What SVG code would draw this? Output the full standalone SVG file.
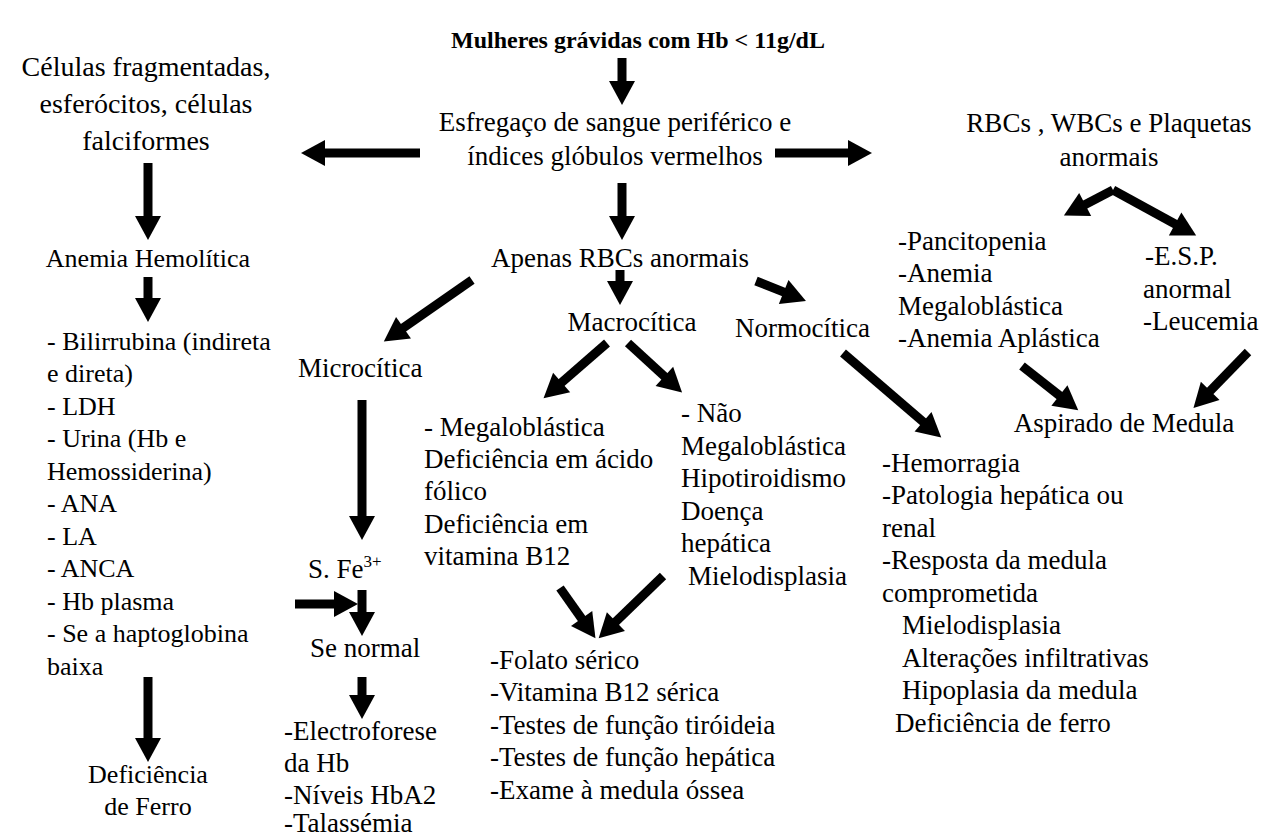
<svg xmlns="http://www.w3.org/2000/svg" width="1280" height="837" viewBox="0 0 1280 837">
<defs>
<style>
text{font-family:'Liberation Serif',serif;font-size:27px;fill:#000}
.b{font-weight:bold;font-size:24px}
.big{font-size:28px}
.l{font-size:26px}
.m{text-anchor:middle}
.c line{stroke:#000;stroke-width:9;stroke-linecap:butt;marker-end:url(#ah)}
</style>
<marker id="ah" markerUnits="userSpaceOnUse" markerWidth="24" markerHeight="26" viewBox="0 0 24 26" refX="1" refY="13" orient="auto" overflow="visible">
<path d="M0,0 L24,13 L0,26 z" fill="#000"/>
</marker>
</defs>
<rect width="1280" height="837" fill="#fff"/>
<g font-family="Liberation Serif, serif">
<g id="n-title"><text class="b m" x="638" y="48">Mulheres grávidas com Hb &lt; 11g/dL</text></g>
<g id="n-esfregaco"><text class="m" x="615" y="131">Esfregaço de sangue periférico e</text><text class="m" x="615" y="165">índices glóbulos vermelhos</text></g>
<g id="n-celulas"><text class="big m" x="146" y="76">Células fragmentadas,</text><text class="big m" x="146" y="113">esferócitos, células</text><text class="big m" x="146" y="150">falciformes</text></g>
<g id="n-rbcwbc"><text class="m" x="1109" y="132">RBCs , WBCs e Plaquetas</text><text class="m" x="1109" y="166">anormais</text></g>
<g id="n-hemolitica"><text class="l m" x="148" y="267">Anemia Hemolítica</text></g>
<g id="n-hemolist">
<text class="l" x="47" y="350">- Bilirrubina (indireta</text>
<text class="l" x="47" y="382">e direta)</text>
<text class="l" x="47" y="415">- LDH</text>
<text class="l" x="47" y="447">- Urina (Hb e</text>
<text class="l" x="47" y="480">Hemossiderina)</text>
<text class="l" x="47" y="512">- ANA</text>
<text class="l" x="47" y="545">- LA</text>
<text class="l" x="47" y="577">- ANCA</text>
<text class="l" x="47" y="610">- Hb plasma</text>
<text class="l" x="47" y="642">- Se a haptoglobina</text>
<text class="l" x="47" y="675">baixa</text>
</g>
<g id="n-deffe"><text class="l m" x="148" y="783">Deficiência</text><text class="l m" x="148" y="815">de Ferro</text></g>
<g id="n-apenas"><text class="m" x="620" y="267">Apenas RBCs anormais</text></g>
<g id="n-macro"><text class="m" x="632" y="331">Macrocítica</text></g>
<g id="n-normo"><text x="735" y="337">Normocítica</text></g>
<g id="n-micro"><text x="298" y="377">Microcítica</text></g>
<g id="n-sfe"><text x="308" y="578">S. Fe<tspan font-size="17" dy="-11">3+</tspan></text></g>
<g id="n-senormal"><text x="310" y="657">Se normal</text></g>
<g id="n-electro">
<text x="284" y="740">-Electroforese</text>
<text x="284" y="772">da Hb</text>
<text x="284" y="804">-Níveis HbA2</text>
<text x="284" y="832">-Talassémia</text>
</g>
<g id="n-megalo">
<text x="424" y="436">- Megaloblástica</text>
<text x="424" y="468">Deficiência em ácido</text>
<text x="424" y="500">fólico</text>
<text x="424" y="533">Deficiência em</text>
<text x="424" y="565">vitamina B12</text>
</g>
<g id="n-naomegalo">
<text x="681" y="422">- Não</text>
<text x="681" y="455">Megaloblástica</text>
<text x="681" y="487">Hipotiroidismo</text>
<text x="681" y="520">Doença</text>
<text x="681" y="552">hepática</text>
<text x="688" y="585">Mielodisplasia</text>
</g>
<g id="n-folato">
<text x="490" y="669">-Folato sérico</text>
<text x="490" y="701">-Vitamina B12 sérica</text>
<text x="490" y="734">-Testes de função tiróideia</text>
<text x="490" y="766">-Testes de função hepática</text>
<text x="490" y="799">-Exame à medula óssea</text>
</g>
<g id="n-hemorragia">
<text x="882" y="472">-Hemorragia</text>
<text x="882" y="504">-Patologia hepática ou</text>
<text x="882" y="537">renal</text>
<text x="882" y="569">-Resposta da medula</text>
<text x="882" y="602">comprometida</text>
<text x="902" y="634">Mielodisplasia</text>
<text x="902" y="667">Alterações infiltrativas</text>
<text x="902" y="699">Hipoplasia da medula</text>
<text x="895" y="732">Deficiência de ferro</text>
</g>
<g id="n-pancito">
<text x="898" y="250">-Pancitopenia</text>
<text x="898" y="282">-Anemia</text>
<text x="898" y="315">Megaloblástica</text>
<text x="898" y="347">-Anemia Aplástica</text>
</g>
<g id="n-esp">
<text x="1145" y="265">-E.S.P.</text>
<text x="1143" y="298">anormal</text>
<text x="1143" y="330">-Leucemia</text>
</g>
<g id="n-aspirado"><text class="m" x="1124" y="432">Aspirado de Medula</text></g>
</g>
<g id="connectors" class="c">
<line x1="622" y1="58" x2="622" y2="82"/>
<line x1="420" y1="153" x2="324" y2="153"/>
<line x1="775" y1="153" x2="849" y2="153"/>
<line x1="622" y1="183" x2="622" y2="217"/>
<line x1="148" y1="163" x2="148" y2="217"/>
<line x1="148" y1="277" x2="148" y2="299"/>
<line x1="148" y1="677" x2="148" y2="739"/>
<line x1="472" y1="280" x2="402.7" y2="328.3"/>
<line x1="620" y1="270" x2="620" y2="282"/>
<line x1="756" y1="281" x2="784.6" y2="292.4"/>
<line x1="362" y1="400" x2="362" y2="517"/>
<line x1="295" y1="604" x2="335" y2="604"/>
<line x1="362" y1="590" x2="362" y2="613"/>
<line x1="362" y1="677" x2="362" y2="696"/>
<line x1="607" y1="343" x2="560.9" y2="383.1"/>
<line x1="628" y1="343" x2="665.1" y2="377"/>
<line x1="560" y1="588" x2="582.2" y2="619.4"/>
<line x1="663" y1="576" x2="615.2" y2="622.3"/>
<line x1="843" y1="353" x2="923.8" y2="422.4"/>
<line x1="1113" y1="190" x2="1084.3" y2="204.9"/>
<line x1="1113" y1="190" x2="1176" y2="224.5"/>
<line x1="1022" y1="366" x2="1060.2" y2="396.1"/>
<line x1="1248" y1="352" x2="1209.5" y2="391.6"/>
</g>
</svg>
